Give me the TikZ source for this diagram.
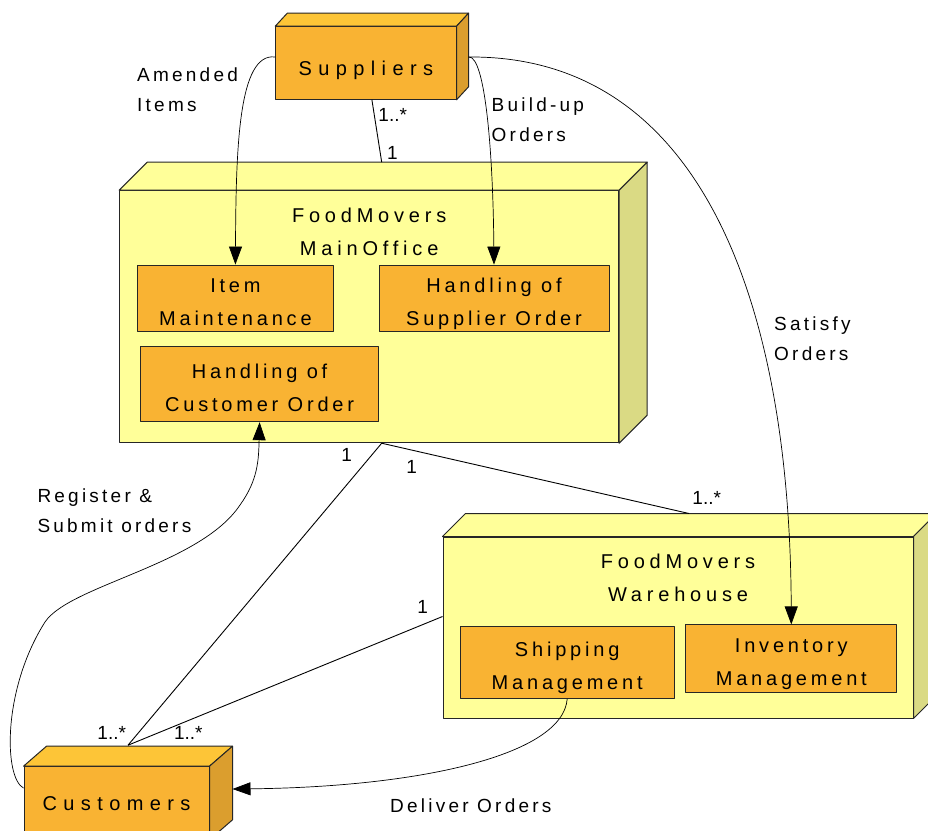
\documentclass[tikz,border=0pt]{standalone}
\usepackage{fontspec}
\setmainfont{Liberation Sans}
\newfontfamily\boxfont[LetterSpace=19]{Liberation Sans}
\newfontfamily\wideboxfont[LetterSpace=32]{Liberation Sans}
\newfontfamily\titlefont[LetterSpace=24]{Liberation Sans}
\newfontfamily\notefont[LetterSpace=17]{Liberation Sans}
\usetikzlibrary{calc,arrows.meta}

\definecolor{ambFront}{HTML}{F9B333}
\definecolor{ambTop}{HTML}{FDC537}
\definecolor{ambSide}{HTML}{DB9E2E}
\definecolor{lemFront}{HTML}{FFFF99}
\definecolor{lemTop}{HTML}{FFFF99}
\definecolor{lemSide}{HTML}{DADA84}
\definecolor{edge}{HTML}{262626}

\tikzset{
  face/.style={draw=edge, line width=1pt, line join=round},
  nodeface/.style={face, rectangle, inner sep=0pt, align=center},
  solidbox/.style={nodeface, fill=ambFront},
  hostbox/.style={nodeface, fill=lemFront},
  part/.style={nodeface, fill=ambFront, font=\boxfont\fontsize{20}{33}\selectfont, text height=54pt, text depth=0pt},
  titletext/.style={inner sep=0pt, align=center, font=\titlefont\fontsize{20}{33}\selectfont, text depth=0pt},
  assoc/.style={draw=black, line width=0.9pt},
  flow/.style={draw=black, line width=0.7pt, -{Triangle[length=18pt,width=13pt]}},
  mult/.style={inner sep=0pt, font=\fontsize{19}{19}\selectfont},
  note/.style={inner sep=0pt, align=left, anchor=base west, font=\notefont\fontsize{19}{30}\selectfont}
}

% top and right faces of a 3D block whose front face is node #1
\newcommand\solidfaces[5]{%
  \filldraw[face, fill=#4] (#1.north west) -- ++(#2,-#3) -- ($(#1.north east)+(#2,-#3)$) -- (#1.north east) -- cycle;
  \filldraw[face, fill=#5] (#1.north east) -- ++(#2,-#3) -- ($(#1.south east)+(#2,-#3)$) -- (#1.south east) -- cycle;
}

\begin{document}
\begin{tikzpicture}[x=1pt,y=-1pt]
\useasboundingbox (0,0) rectangle (928,830);
\fill[white] (0,0) rectangle (928,830);
\clip (0,0) rectangle (928,830);

% Suppliers
\node[solidbox, minimum width=180.3pt, minimum height=72.6pt,
      font=\wideboxfont\fontsize{20}{33}\selectfont, text height=24pt, text depth=0pt]
  (sup) at (365.9,63) {Suppliers};
\solidfaces{sup}{12}{13}{ambTop}{ambSide}

% Main office
\node[hostbox, minimum width=499pt, minimum height=252pt] (office) at (369.2,316.7) {};
\solidfaces{office}{28}{28}{lemTop}{lemSide}
\node[titletext] (officetitle) at ($(office.north)+(0,41.5)$) {FoodMovers\\MainOffice};
\node[part, minimum width=195.3pt, minimum height=66.7pt] (item) at (235.4,298.4) {Item\\Maintenance};
\node[part, minimum width=230pt, minimum height=66.7pt] (suporder) at (494,298.4) {Handling of\\Supplier Order};
\node[part, minimum width=238pt, minimum height=75pt] (custorder) at (259.6,384.2) {Handling of\\Customer Order};

% Warehouse
\node[hostbox, minimum width=470pt, minimum height=181pt] (house) at (678,627.5) {};
\solidfaces{house}{23}{23}{lemTop}{lemSide}
\node[titletext] (housetitle) at ($(house.north)+(0,41.5)$) {FoodMovers\\Warehouse};
\node[part, minimum width=214.3pt, minimum height=71.7pt] (ship) at (567.2,662.5) {Shipping\\Management};
\node[part, minimum width=210.7pt, minimum height=67.7pt] (inv) at (791.3,658.8) {Inventory\\Management};

% Customers
\node[solidbox, minimum width=185pt, minimum height=72.6pt,
      font=\wideboxfont\fontsize{20}{33}\selectfont, text height=14.4pt, text depth=0pt]
  (cust) at (116.5,803) {Customers};
\solidfaces{cust}{23}{20}{ambTop}{ambSide}

% associations
\coordinate (custtop) at ([xshift=11.5pt,yshift=21pt]cust.north);
\coordinate (officebase) at ([xshift=12.5pt]office.south);
\draw[assoc] ([xshift=6pt]sup.south) -- ([xshift=12.5pt,yshift=28pt]office.north);
\draw[assoc] (custtop) -- (officebase);
\draw[assoc] (custtop) -- ([yshift=11pt]house.west);
\draw[assoc] (officebase) -- ([xshift=11pt,yshift=23pt]house.north);

% flows
\draw[flow] ([yshift=6pt]sup.west) .. controls (238,52) and (236,150) .. (item.north);
\draw[flow] ([xshift=12pt,yshift=6pt]sup.east) .. controls (485,55) and (493,150) .. (suporder.north);
\draw[flow] ([xshift=12pt,yshift=6pt]sup.east) .. controls (700,55) and (790,300) .. (inv.north);
\draw[flow] ([yshift=15pt]cust.west) .. controls (4,778) and (2,690) .. (45,622)
  .. controls (70,585) and (200,565) .. (240,505)
  .. controls (258,480) and (258.6,460) .. (custorder.south);
\draw[flow] (ship.south) .. controls (563,755) and (420,787) .. ([xshift=23pt,yshift=14pt]cust.east);

% multiplicities
\node[mult] (m1) at (392.7,115) {1..*};
\node[mult] (m2) at (392.3,153) {1};
\node[mult] (m3) at (346.7,455) {1};
\node[mult] (m4) at (411.7,466.7) {1};
\node[mult] (m5) at (706.7,498) {1..*};
\node[mult] (m6) at (422.7,606.7) {1};
\node[mult] (m7) at (111.7,733) {1..*};
\node[mult] (m8) at (188.3,733) {1..*};

% flow labels (base anchor sits on the last line)
\node[note] (lamend) at (137,111) {Amended\\Items};
\node[note] (lbuild) at (491.5,141) {Build-up\\Orders};
\node[note] (lsatisfy) at (774,360) {Satisfy\\Orders};
\node[note] (lregister) at (37.3,532) {Register \&\\Submit orders};
\node[note] (ldeliver) at (390,812) {Deliver Orders};
\end{tikzpicture}
\end{document}
